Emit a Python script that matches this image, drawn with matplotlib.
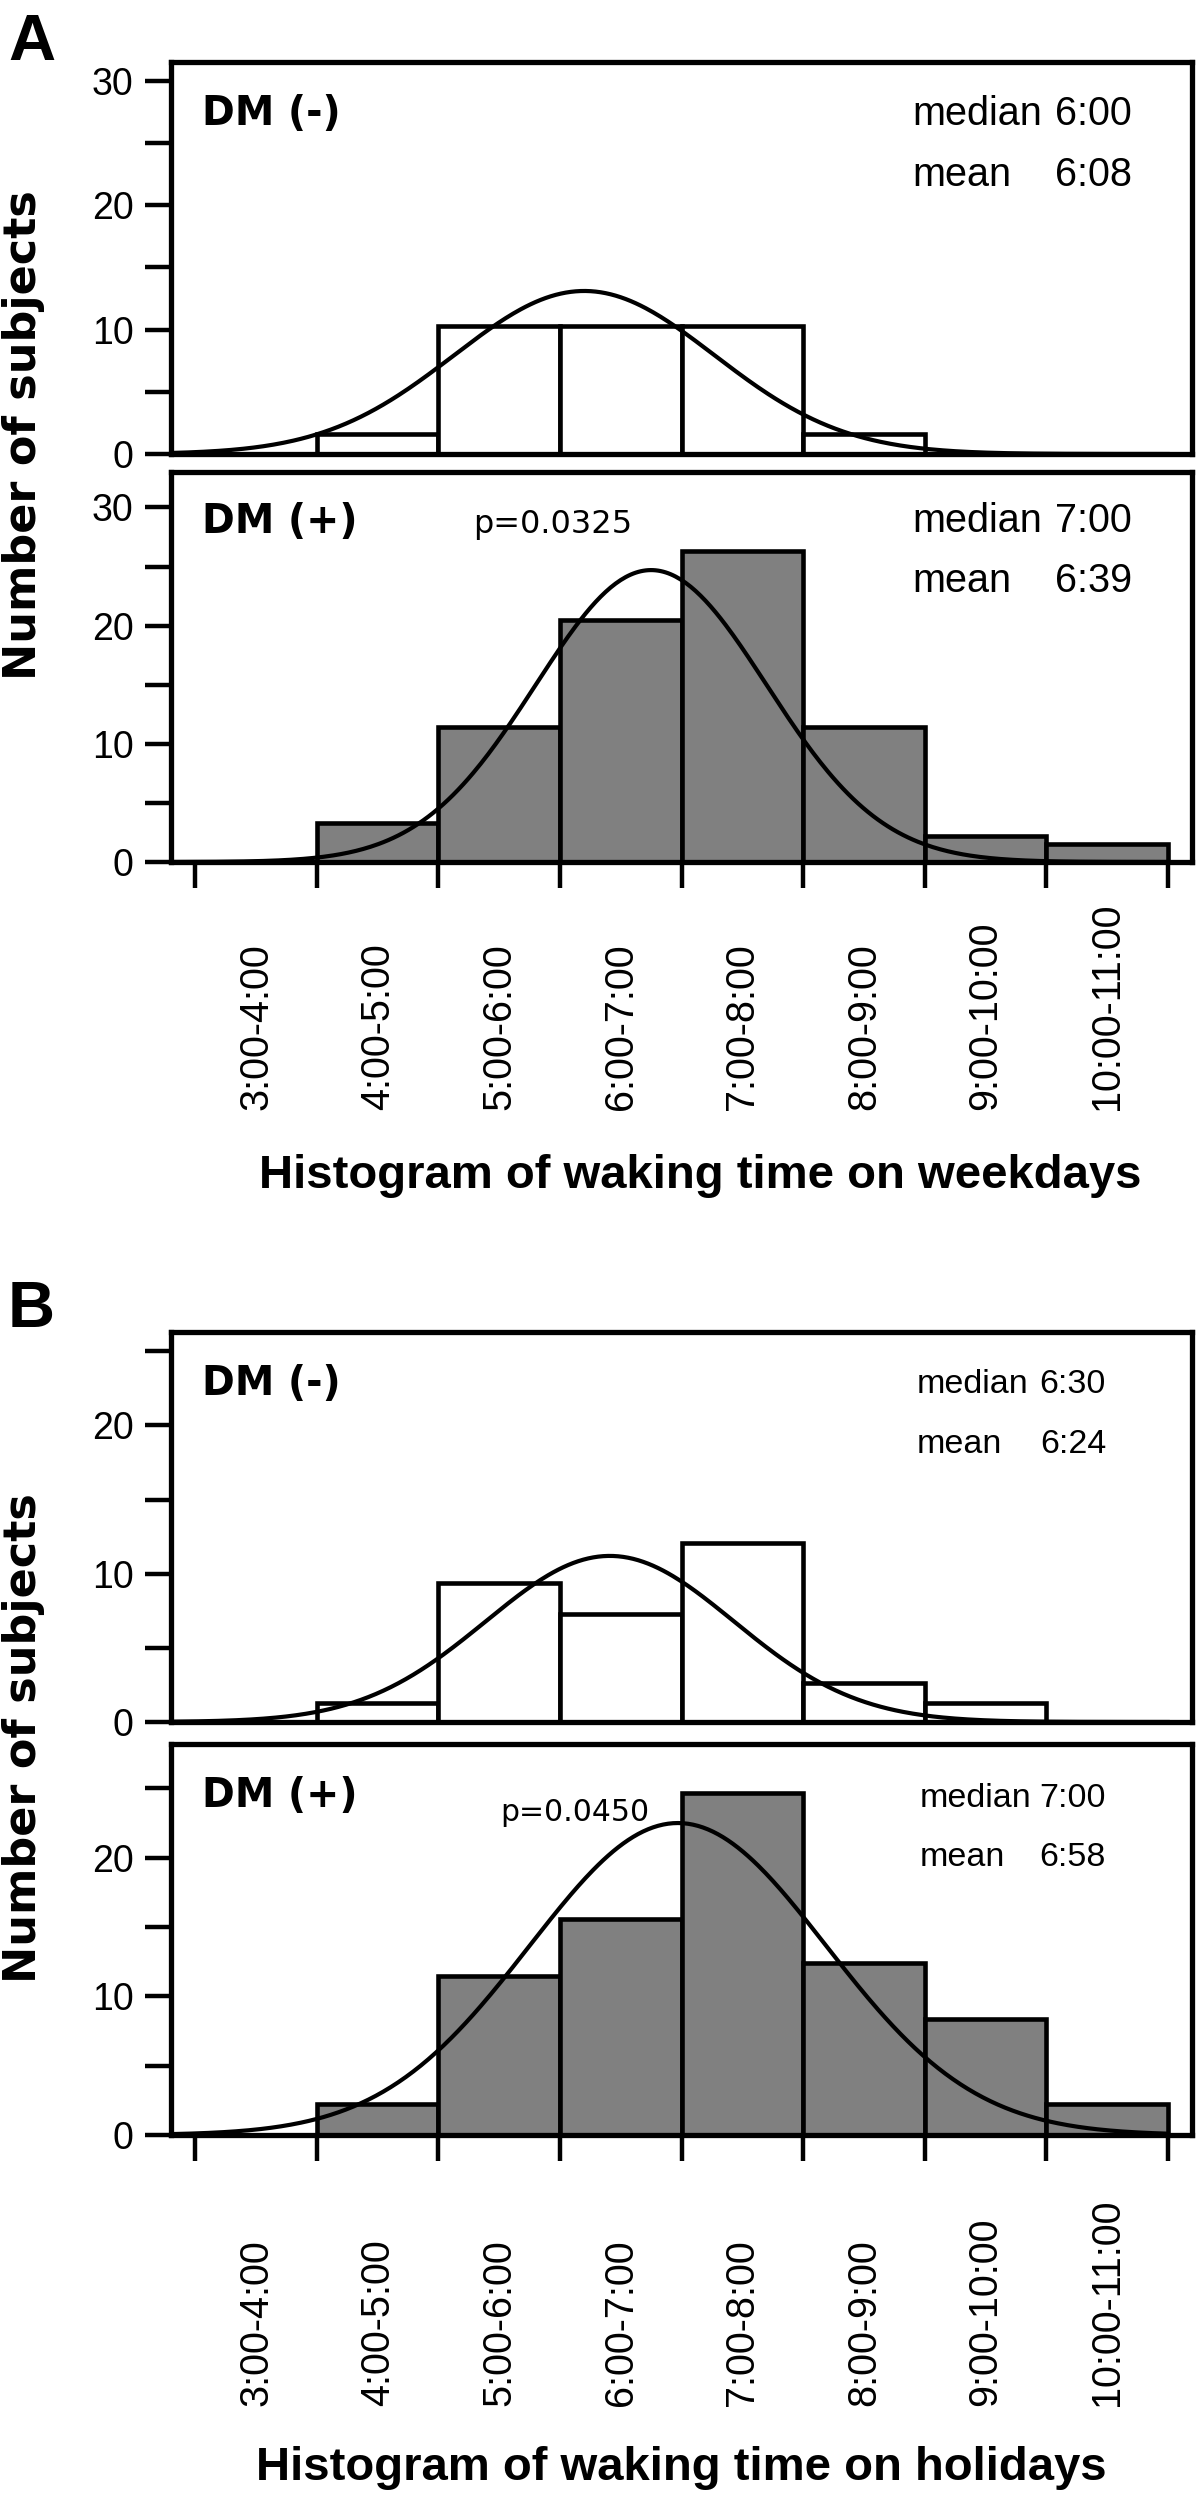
import numpy as np
import matplotlib.pyplot as plt
from matplotlib.transforms import blended_transform_factory

# ---------------------------------------------------------------------------
# Data
# ---------------------------------------------------------------------------
bin_labels = ["3:00-4:00", "4:00-5:00", "5:00-6:00", "6:00-7:00",
              "7:00-8:00", "8:00-9:00", "9:00-10:00", "10:00-11:00"]
bin_start = [3, 4, 5, 6, 7, 8, 9, 10]          # hour at left edge of each bin

weekday_dm_neg = [0, 1.6, 10.3, 10.3, 10.3, 1.6, 0, 0]
weekday_dm_pos = [0, 3.3, 11.4, 20.5, 26.3, 11.4, 2.2, 1.5]
holiday_dm_neg = [0, 1.3, 9.4, 7.3, 12.1, 2.6, 1.3, 0]
holiday_dm_pos = [0, 2.2, 11.5, 15.6, 24.7, 12.4, 8.4, 2.2]

# fitted normal curves: centre (h), sd (h), peak height (subjects)
fit_center = [6.20, 6.75, 6.41, 6.97]
fit_sd = [1.07, 0.95, 1.02, 1.22]
fit_peak = [13.1, 24.7, 11.2, 22.5]

medians = ["6:00", "7:00", "6:30", "7:00"]
means = ["6:08", "6:39", "6:24", "6:58"]
p_values = ["p=0.0325", "p=0.0450"]
group_names = ["DM (-)", "DM (+)", "DM (-)", "DM (+)"]
x_titles = ["Histogram of waking time on weekdays",
            "Histogram of waking time on holidays"]

# ---------------------------------------------------------------------------
# Layout (pixels of a 1200 x 2495 canvas)
# ---------------------------------------------------------------------------
W, H = 1200, 2495
LEFT, RIGHT = 171, 1192


def fx(x):
    return x / W


def fy(y):
    return 1 - y / H


# top px, bottom px, y max, y-tick max
panels = [(62, 454, 31.5, 30), (472, 862, 33.0, 30),
          (1332, 1722, 26.3, 25), (1744, 2135, 28.2, 25)]

REG = ["Liberation Sans", "DejaVu Sans"]
HEAVY = ["DejaVu Sans"]

plt.rcParams.update({"font.family": REG, "axes.linewidth": 3.8})

fig = plt.figure(figsize=(12, 24.95), dpi=100)
fig.patch.set_facecolor("white")

series = [weekday_dm_neg, weekday_dm_pos, holiday_dm_neg, holiday_dm_pos]
fills = ["white", "#808080", "white", "#808080"]
axes = []
for k, (top, bot, ymax, tmax) in enumerate(panels):
    ax = fig.add_axes([fx(LEFT), fy(bot), (RIGHT - LEFT) / W, (bot - top) / H])
    axes.append(ax)
    counts = series[k]
    xs = [b for b, c in zip(bin_start, counts) if c > 0]
    hs = [c for c in counts if c > 0]
    ax.bar(xs, hs, width=1.0, align="edge", facecolor=fills[k],
           edgecolor="black", linewidth=3.3, zorder=2)

    xx = np.linspace(2.8, 11.0, 400)
    yy = fit_peak[k] * np.exp(-0.5 * ((xx - fit_center[k]) / fit_sd[k]) ** 2)
    ax.plot(xx, yy, color="black", linewidth=3.0, zorder=3)

    ax.set_xlim(2.8, 11.2)
    ax.set_ylim(0, ymax)
    ax.set_yticks(list(range(0, tmax + 1, 10)))
    ax.set_yticks(list(range(5, tmax + 1, 10)), minor=True)
    ax.tick_params(axis="y", which="both", direction="out", length=19,
                   width=3.2, labelsize=27, pad=8)
    if k % 2 == 0:
        ax.tick_params(axis="x", which="both", bottom=False, labelbottom=False)
    else:
        ax.set_xticks(bin_start + [11])
        ax.tick_params(axis="x", direction="out", length=19, width=3.2,
                       labelbottom=False)

# ---------------------------------------------------------------------------
# Texts
# ---------------------------------------------------------------------------
dm_base = [125, 533, 1395, 1807]
med_base = [125, 532, 1393, 1807]
mean_base = [186, 592, 1453, 1866]
med_left = [912, 912, 917, 920]
time_right = [1132, 1132, 1106, 1106]
info_size = [28.5, 28.5, 24.5, 24.5]

for k in range(4):
    fig.text(fx(202), fy(dm_base[k]), group_names[k], family=HEAVY,
             fontweight="bold", fontsize=28.5, va="baseline", ha="left")
    fig.text(fx(med_left[k]), fy(med_base[k]), "median", fontsize=info_size[k],
             va="baseline", ha="left")
    fig.text(fx(time_right[k]), fy(med_base[k]), medians[k],
             fontsize=info_size[k], va="baseline", ha="right")
    fig.text(fx(med_left[k]), fy(mean_base[k]), "mean", fontsize=info_size[k],
             va="baseline", ha="left")
    fig.text(fx(time_right[k]), fy(mean_base[k]), means[k],
             fontsize=info_size[k], va="baseline", ha="right")

fig.text(fx(473), fy(533), p_values[0], family=HEAVY, fontsize=23,
         va="baseline", ha="left")
fig.text(fx(500), fy(1821), p_values[1], family=HEAVY, fontsize=21.5,
         va="baseline", ha="left")

# category labels under the two lower panels
label_bottom = [1110, 2406]
title_base = [1188, 2480]
title_x = [700, 681]
for j, ax in enumerate([axes[1], axes[3]]):
    tr = blended_transform_factory(ax.transData, fig.transFigure)
    for b, lab in zip(bin_start, bin_labels):
        ax.text(b + 0.5, fy(label_bottom[j]), lab, transform=tr, rotation=90,
                ha="center", va="bottom", fontsize=28.5, clip_on=False)
    fig.text(fx(title_x[j]), fy(title_base[j]), x_titles[j], fontsize=34,
             fontweight="bold", ha="center", va="baseline")

# y labels and panel letters
for yc in [435, 1738]:
    fig.text(fx(24), fy(yc), "Number of subjects", family=HEAVY,
             fontweight="bold", fontsize=32, rotation=90,
             ha="center", va="center")
fig.text(fx(8), fy(60), "A", fontsize=47, fontweight="bold",
         ha="left", va="baseline")
fig.text(fx(8), fy(1327), "B", fontsize=47, fontweight="bold",
         ha="left", va="baseline")

fig.savefig("out.png", dpi=100, facecolor="white")
